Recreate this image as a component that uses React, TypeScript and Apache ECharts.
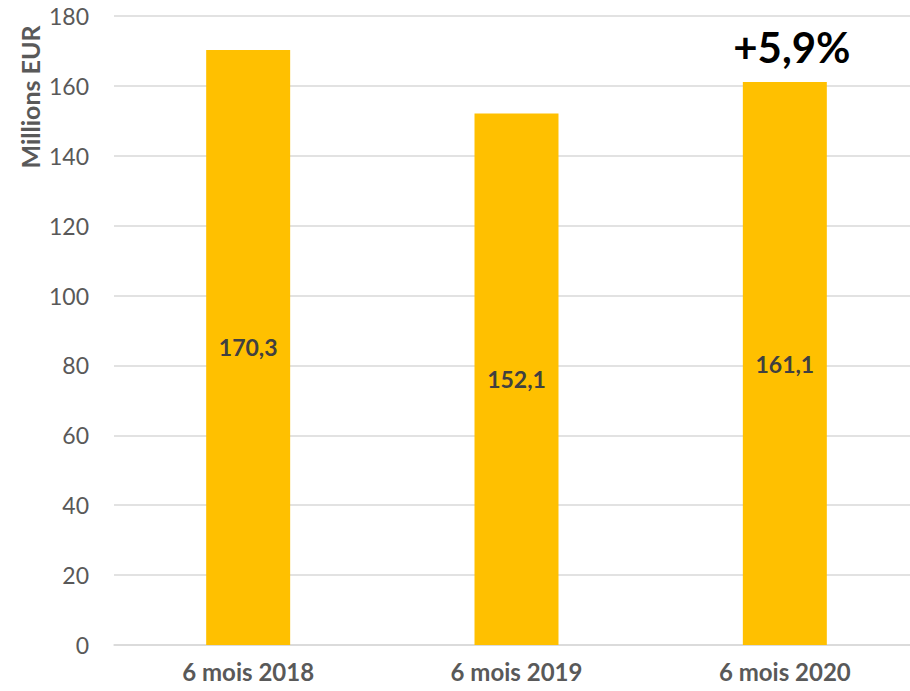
import React, { useEffect, useRef } from "react";
import * as echarts from "echarts";

const categories = ["6 mois 2018", "6 mois 2019", "6 mois 2020"];
const values = [170.3, 152.1, 161.1];
const changeLabel = "+5,9%";
const yAxisTitle = "Millions EUR";

const FONT = "Lato, 'Open Sans', sans-serif";

export default function App() {
  const ref = useRef<HTMLDivElement>(null);
  useEffect(() => {
    if (!ref.current) return;
    const chart = echarts.init(ref.current, undefined, { renderer: "svg" });
    chart.setOption({
      animation: false,
      backgroundColor: "#ffffff",
      grid: { left: 114, right: 0, top: 16, bottom: 46, containLabel: false },
      xAxis: {
        type: "category",
        data: categories,
        axisLine: { show: true, lineStyle: { color: "#d9d9d9", width: 1.5 } },
        axisTick: { show: false },
        axisLabel: {
          color: "#595959",
          fontFamily: FONT,
          fontWeight: "bold",
          fontSize: 24,
          margin: 14,
        },
      },
      yAxis: {
        type: "value",
        min: 0,
        max: 180,
        interval: 20,
        axisLine: { show: false },
        axisTick: { show: false },
        splitLine: { lineStyle: { color: "#d9d9d9", width: 1.5 } },
        axisLabel: {
          color: "#595959",
          fontFamily: FONT,
          fontSize: 23,
          margin: 25,
        },
      },
      series: [
        {
          type: "bar",
          data: values,
          barWidth: "31.3%",
          itemStyle: { color: "#FFC000" },
          label: {
            show: true,
            position: "inside",
            color: "#404040",
            fontFamily: FONT,
            fontWeight: "bold",
            fontSize: 23,
            formatter: (p: any) => String(p.value).replace(".", ","),
          },
          markPoint: {
            symbol: "circle",
            symbolSize: 0,
            data: [
              {
                coord: [categories[2], values[2]],
                label: {
                  show: true,
                  position: "top",
                  distance: 14,
                  offset: [7, 0],
                  formatter: changeLabel,
                  color: "#000000",
                  fontFamily: FONT,
                  fontWeight: "bold",
                  fontSize: 42,
                },
              },
            ],
          },
        },
      ],
      graphic: [
        {
          type: "text",
          x: 30,
          y: 97,
          rotation: Math.PI / 2,
          style: {
            text: yAxisTitle,
            fill: "#595959",
            font: `bold 25px ${FONT}`,
            align: "center",
            verticalAlign: "middle",
          },
        },
      ],
    });
    return () => chart.dispose();
  }, []);
  return (
    <div
      style={{
        position: "absolute",
        left: 0,
        top: 0,
        width: 910,
        height: 691,
        overflow: "hidden",
      }}
    >
      <div ref={ref} style={{ width: 919, height: 691 }} />
    </div>
  );
}
